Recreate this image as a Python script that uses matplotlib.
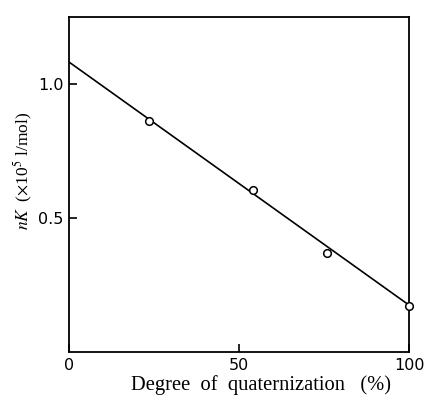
import matplotlib.pyplot as plt
import numpy as np

plt.rcParams['mathtext.fontset'] = 'stix'

# measured points
degree = [23.5, 54, 76, 100]
nK = [0.862, 0.605, 0.37, 0.172]

# fitted straight line end points
fit_x = [0, 100]
fit_y = [1.082, 0.175]

fig = plt.figure(figsize=(4.27, 3.98), dpi=100)
ax = fig.add_axes([0.1616, 0.1156, 0.7963, 0.8417])

ax.plot(fit_x, fit_y, color='black', lw=1.2, zorder=2)
ax.plot(degree, nK, 'o', mfc='white', mec='black', mew=1.1, ms=5.5, zorder=3, clip_on=False)

ax.set_xlim(0, 100)
ax.set_ylim(0, 1.25)
ax.set_xticks([0, 50, 100])
ax.set_xticklabels(['0', '50', '100'])
ax.set_yticks([0.5, 1.0])
ax.set_yticklabels(['0.5', '1.0'])
ax.tick_params(direction='in', length=6, width=1.2, labelsize=11.5, pad=4)

for s in ax.spines.values():
    s.set_linewidth(1.3)

ax.set_xlabel('Degree  of  quaternization   (%)', family='Liberation Serif', fontsize=14.8)
ax.xaxis.set_label_coords(0.565, -0.068)
ax.set_ylabel(r'$nK$  ($\times$10$^5$ l/mol)', family='Liberation Serif', fontsize=12.5)
ax.yaxis.set_label_coords(-0.1, 0.54)

fig.savefig('out.png', dpi=100)
